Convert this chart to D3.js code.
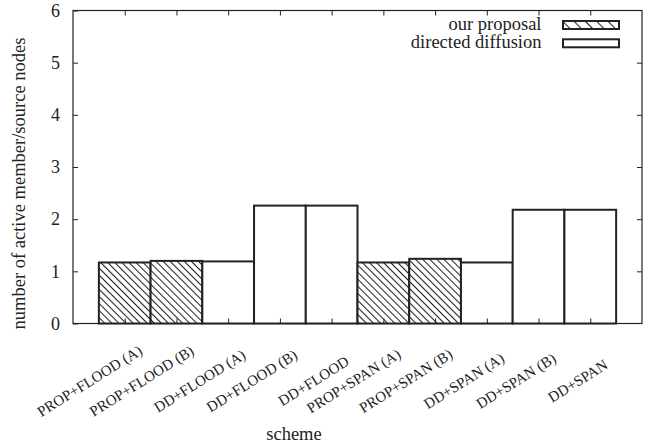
<!DOCTYPE html>
<html>
<head>
<meta charset="utf-8">
<script src="https://cdn.jsdelivr.net/npm/d3@7"></script>
<style>
  html, body { margin: 0; padding: 0; background: #fff; }
  svg { display: block; }
  svg text { font-family: "Liberation Serif", "Times New Roman", Times, serif; fill: #222; }
</style>
</head>
<body>
<svg id="chart" width="659" height="447" font-family="Liberation Serif, serif"></svg>
<script>
const categories = ["PROP+FLOOD (A)", "PROP+FLOOD (B)", "DD+FLOOD (A)", "DD+FLOOD (B)", "DD+FLOOD",
                    "PROP+SPAN (A)", "PROP+SPAN (B)", "DD+SPAN (A)", "DD+SPAN (B)", "DD+SPAN"];
const values = [1.17, 1.20, 1.19, 2.26, 2.26, 1.17, 1.24, 1.17, 2.18, 2.18];
const seriesOf = ["our proposal", "our proposal", "directed diffusion", "directed diffusion", "directed diffusion",
                  "our proposal", "our proposal", "directed diffusion", "directed diffusion", "directed diffusion"];
const seriesNames = ["our proposal", "directed diffusion"];
const yTicks = [0, 1, 2, 3, 4, 5, 6];
const xLabel = "scheme";
const yLabel = "number of active member/source nodes";

const FONT = "Liberation Serif";
const svg = d3.select("#chart");
const L = 73, R = 642, T = 10.5, B = 323.5;
const ink = "#222";

const x = d3.scaleLinear().domain([0, categories.length + 1]).range([L, R]);
const y = d3.scaleLinear().domain([0, 6]).range([B, T]);

const defs = svg.append("defs");
function hatch(id, step) {
  const p = defs.append("pattern").attr("id", id).attr("patternUnits", "userSpaceOnUse")
    .attr("width", step).attr("height", 20).attr("patternTransform", "rotate(-45)");
  p.append("rect").attr("width", step).attr("height", 20).attr("fill", "#fff");
  p.append("line").attr("x1", 0.5).attr("x2", 0.5).attr("y1", 0).attr("y2", 20)
    .attr("stroke", ink).attr("stroke-width", 1.1);
}
hatch("hatch", 5);
hatch("hatchLeg", 8);
const fillFor = s => s === "our proposal" ? "url(#hatch)" : "#fff";

// frame
svg.append("rect").attr("x", L).attr("y", T).attr("width", R - L).attr("height", B - T)
  .attr("fill", "none").attr("stroke", ink).attr("stroke-width", 1.2);

// bars
const idx = d3.range(categories.length);
svg.append("g").selectAll("rect").data(idx).join("rect")
  .attr("x", i => x(i + 0.5))
  .attr("y", i => y(values[i]))
  .attr("width", i => x(i + 1.5) - x(i + 0.5))
  .attr("height", i => y(0) - y(values[i]))
  .attr("fill", i => fillFor(seriesOf[i]))
  .attr("stroke", ink).attr("stroke-width", 2);

// axes (ticks inward)
const yLeft = svg.append("g").attr("transform", `translate(${L},0)`)
  .call(d3.axisLeft(y).tickValues(yTicks).tickFormat(d3.format("d")).tickSizeInner(-5).tickSizeOuter(0).tickPadding(13));
yLeft.attr("font-family", FONT).attr("font-size", 18);
yLeft.select(".domain").remove();
yLeft.selectAll("line").attr("stroke", ink);
yLeft.selectAll("text").attr("fill", ink);

const yRight = svg.append("g").attr("transform", `translate(${R},0)`)
  .call(d3.axisRight(y).tickValues(yTicks.slice(1, -1)).tickFormat("").tickSizeInner(-5).tickSizeOuter(0));
yRight.select(".domain").remove();
yRight.selectAll("line").attr("stroke", ink);

const xTop = svg.append("g").attr("transform", `translate(0,${T})`)
  .call(d3.axisTop(x).tickValues(idx.map(i => i + 1)).tickFormat("").tickSizeInner(-5).tickSizeOuter(0));
xTop.select(".domain").remove();
xTop.selectAll("line").attr("stroke", ink);

const xBot = svg.append("g").attr("transform", `translate(0,${B})`)
  .call(d3.axisBottom(x).tickValues(idx.map(i => i + 1)).tickFormat("").tickSizeInner(-5).tickSizeOuter(0));
xBot.select(".domain").remove();
xBot.selectAll("line").attr("stroke", ink);

// rotated category labels
const ang = 32, rad = ang * Math.PI / 180;
const lab = svg.append("g").attr("font-family", FONT).selectAll("text").data(idx).join("text")
  .attr("font-size", "15px").attr("text-anchor", "middle").attr("dominant-baseline", "central")
  .text(i => categories[i]);
lab.each(function(i) {
  const w = this.getComputedTextLength();
  const cx = x(i + 1) + 16 - (w / 2) * Math.cos(rad);
  const cy = 381;
  d3.select(this).attr("transform", `translate(${cx},${cy}) rotate(${-ang})`);
});

// axis titles
svg.append("text").attr("x", 294).attr("y", 440).attr("text-anchor", "middle")
  .attr("font-family", FONT).attr("font-size", "18.5px").text(xLabel);
svg.append("text").attr("transform", "translate(25,183.5) rotate(-90)").attr("text-anchor", "middle")
  .attr("font-family", FONT).attr("font-size", "18.5px").text(yLabel);

// legend
const leg = svg.append("g").attr("font-family", FONT).selectAll("g").data(seriesNames).join("g")
  .attr("transform", (d, i) => `translate(0,${25 + i * 18.3})`);
leg.append("text").attr("x", 541.5).attr("y", 4.8).attr("text-anchor", "end")
  .attr("font-size", "18.5px").text(d => d);
leg.append("rect").attr("x", 563).attr("y", -4).attr("width", 56).attr("height", 8)
  .attr("fill", d => d === "our proposal" ? "url(#hatchLeg)" : "#fff")
  .attr("stroke", ink).attr("stroke-width", 2);
</script>
</body>
</html>
